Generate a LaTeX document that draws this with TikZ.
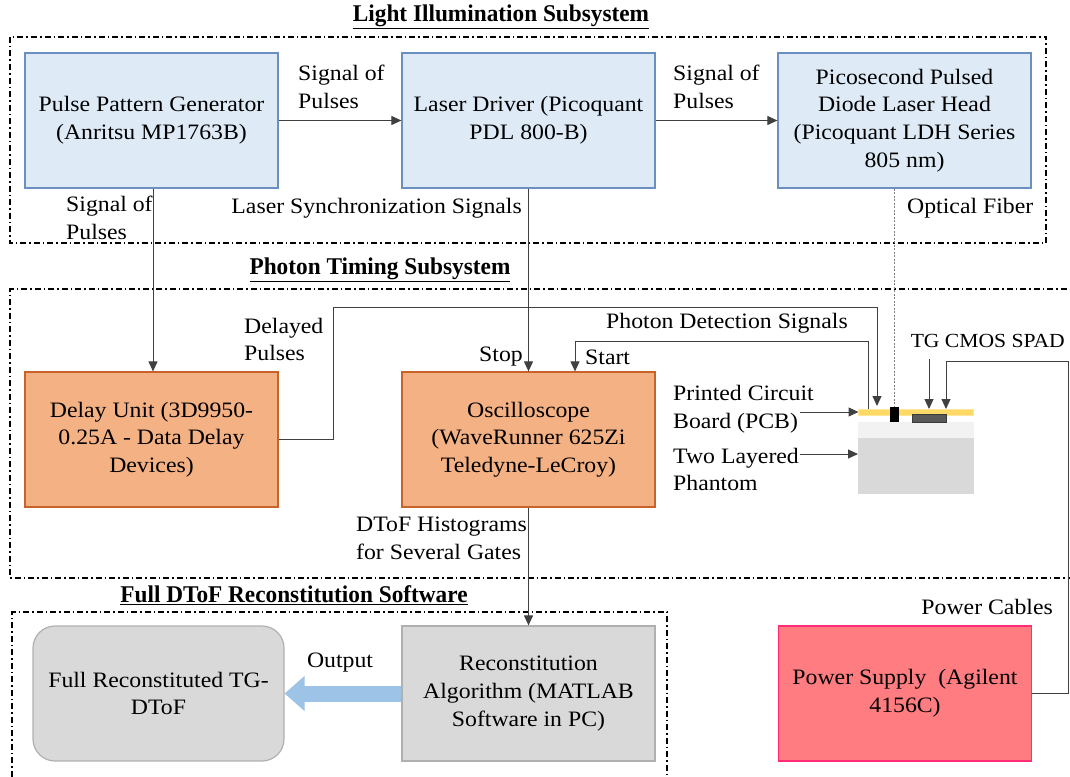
\documentclass[tikz,border=0pt]{standalone}
\usepackage{fontspec}
\setmainfont[FakeStretch=1.08]{Liberation Serif}
\newfontfamily\headfont[FakeStretch=0.97]{Liberation Serif}
\usetikzlibrary{arrows.meta}

\definecolor{bluefill}{HTML}{DEEBF7}
\definecolor{blueedge}{HTML}{6A8FC0}
\definecolor{orangefill}{HTML}{F4B183}
\definecolor{orangeedge}{HTML}{C8642A}
\definecolor{greyfill}{HTML}{D9D9D9}
\definecolor{greyedge}{HTML}{B0B0B0}
\definecolor{pinkfill}{HTML}{FF7C80}
\definecolor{pinkedge}{HTML}{FF2D78}
\definecolor{pcbfill}{HTML}{FFD966}
\definecolor{pcbedge}{HTML}{FFE699}
\definecolor{chipfill}{HTML}{595959}
\definecolor{chipedge}{HTML}{3A3A3A}
\definecolor{layerone}{HTML}{F2F2F2}
\definecolor{layertwo}{HTML}{D9D9D9}
\definecolor{linegrey}{HTML}{404040}
\definecolor{fibergrey}{HTML}{808080}
\definecolor{outarrow}{HTML}{9DC3E6}

\begin{document}
\begin{tikzpicture}[x=1pt,y=-1pt,
  font=\fontsize{22}{27.7}\selectfont,
  box/.style={line width=1.2pt, minimum width=253pt, minimum height=135pt,
    align=center, inner sep=0pt},
  bluebox/.style={box, draw=blueedge, fill=bluefill},
  orangebox/.style={box, draw=orangeedge, fill=orangefill},
  greybox/.style={box, draw=greyedge, fill=greyfill},
  pinkbox/.style={box, draw=pinkedge, fill=pinkfill},
  lbl/.style={align=left, inner sep=0pt},
  heading/.style={inner sep=0pt, font=\fontsize{24}{28}\selectfont\headfont\bfseries},
  group/.style={draw=black, line width=1.2pt,
    dash pattern=on 6pt off 3pt on 1.5pt off 3pt},
  conn/.style={draw=linegrey, line width=1pt},
  arr/.style={conn, -{Triangle[length=10pt,width=9pt]}},
  fiberline/.style={draw=fibergrey, line width=1pt, dash pattern=on 2pt off 1.5pt},
  part/.style={inner sep=0pt, outer sep=0pt}
]
\useasboundingbox (0,0) rectangle (1070,776);
\clip (0,0) rectangle (1070,776);

% subsystem frames
\draw[group] (10,37) rectangle (1046,243);
\draw[group] (1080,289) -- (10,289) -- (10,578) -- (1080,578);
\draw[group] (12,790) -- (12,612) -- (667,612) -- (667,790);

% headings
\node[heading] (h1) at (501,17) {\underline{Light Illumination Subsystem}};
\node[heading] (h2) at (380,270) {\underline{Photon Timing Subsystem}};
\node[heading] (h3) at (294,595) {\underline{Full DToF Reconstitution Software}};

% light illumination blocks
\node[bluebox] (ppg) at (151.5,120.5) {Pulse Pattern Generator\\(Anritsu MP1763B)};
\node[bluebox] (ld) at (528.5,120.5) {Laser Driver (Picoquant\\PDL 800-B)};
\node[bluebox] (pico) at (904.5,120.5) {Picosecond Pulsed\\Diode Laser Head\\(Picoquant LDH Series\\805 nm)};

% photon timing blocks
\node[orangebox] (delay) at (151.5,439.5) {Delay Unit (3D9950-\\0.25A - Data Delay\\Devices)};
\node[orangebox] (osc) at (528.5,439.5) {Oscilloscope\\(WaveRunner 625Zi\\Teledyne-LeCroy)};

% software and power blocks
\node[greybox] (recon) at (528.5,693.5) {Reconstitution\\Algorithm (MATLAB\\Software in PC)};
\node[greybox, rounded corners=22pt, minimum width=251pt] (full) at (158.5,693.5) {Full Reconstituted TG-\\DToF};
\node[pinkbox] (psu) at (905,693.5) {Power Supply\ \ (Agilent\\4156C)};

% sample: PCB on a two layered phantom
\node[part, fill=layertwo, minimum width=116pt, minimum height=56pt] (phantom) at (916,466) {};
\node[part, fill=layerone, minimum width=116pt, minimum height=16pt] (toplayer) at (916,430) {};
\node[part, fill=pcbfill, draw=pcbedge, line width=1pt, minimum width=115pt, minimum height=6pt] (pcb) at (916,412) {};
\node[part, fill=chipfill, draw=chipedge, line width=1pt, minimum width=34pt, minimum height=8pt] (chip) at (929,418) {};
\node[part, fill=black, minimum width=9pt, minimum height=15pt] (block) at (894.5,414.5) {};

% labels
\node[lbl, anchor=west] (sig1) at (298,87) {Signal of\\Pulses};
\node[lbl, anchor=west] (sig2) at (673,87) {Signal of\\Pulses};
\node[lbl, anchor=west] (sig3) at (66,218) {Signal of\\Pulses};
\node[lbl, anchor=east] (sync) at (522,208) {Laser Synchronization Signals};
\node[lbl, anchor=west] (fib) at (907,208) {Optical Fiber};
\node[lbl, anchor=west] (dly) at (244,339.5) {Delayed\\Pulses};
\node[lbl, anchor=east] (stop) at (523,357) {Stop};
\node[lbl, anchor=west] (start) at (585,357) {Start};
\node[lbl, anchor=west] (pd) at (606,323) {Photon Detection Signals};
\node[lbl, anchor=east, font=\fontsize{20}{25}\selectfont] (spad) at (1065,341) {TG CMOS SPAD};
\node[lbl, anchor=west] (pcbl) at (673,409.5) {Printed Circuit\\Board (PCB)};
\node[lbl, anchor=west] (phl) at (673,469.5) {Two Layered\\Phantom};
\node[lbl, anchor=west] (dtof) at (356,538) {DToF Histograms\\for Several Gates};
\node[lbl] (outl) at (340,663) {Output};
\node[lbl, anchor=east] (cab) at (1053,607) {Power Cables};

% connectors
\coordinate (dlyturn) at (333,307);
\coordinate (dlyin) at (877,409);
\coordinate (pdout) at (868,409);
\coordinate (pdturn) at (575,341);
\coordinate (spadtop) at (929,359);
\coordinate (cabturn) at (1068,361);
\coordinate (pcbtail) at (800,412);
\coordinate (phtail) at (800,454);

\draw[arr] (ppg) -- (ld);
\draw[arr] (ld) -- (pico);
\draw[arr] (ppg.south -| 153,0) -- (delay.north -| 153,0);
\draw[arr] (ld) -- (osc);
\draw[fiberline] (block.north |- pico.south) -- (block.north);
\draw[arr, shorten >=3pt] (delay.east) -| (dlyturn) -| (dlyin);
\draw[arr] (pdout) |- (pdturn) -- (pdturn |- osc.north);
\draw[arr] (spadtop) -- (chip.north |- pcb.north);
\draw[arr] (psu.east) -| (cabturn) -| (chip.north east |- pcb.north);
\draw[arr] (pcbtail) -- (pcb.west);
\draw[arr] (phtail) -- (phtail -| phantom.west);
\draw[arr] (osc) -- (recon);
\draw[draw=outarrow, line width=16pt, -{Triangle[length=20pt,width=34pt]}] (recon.west) -- (full.east);
\end{tikzpicture}
\end{document}
